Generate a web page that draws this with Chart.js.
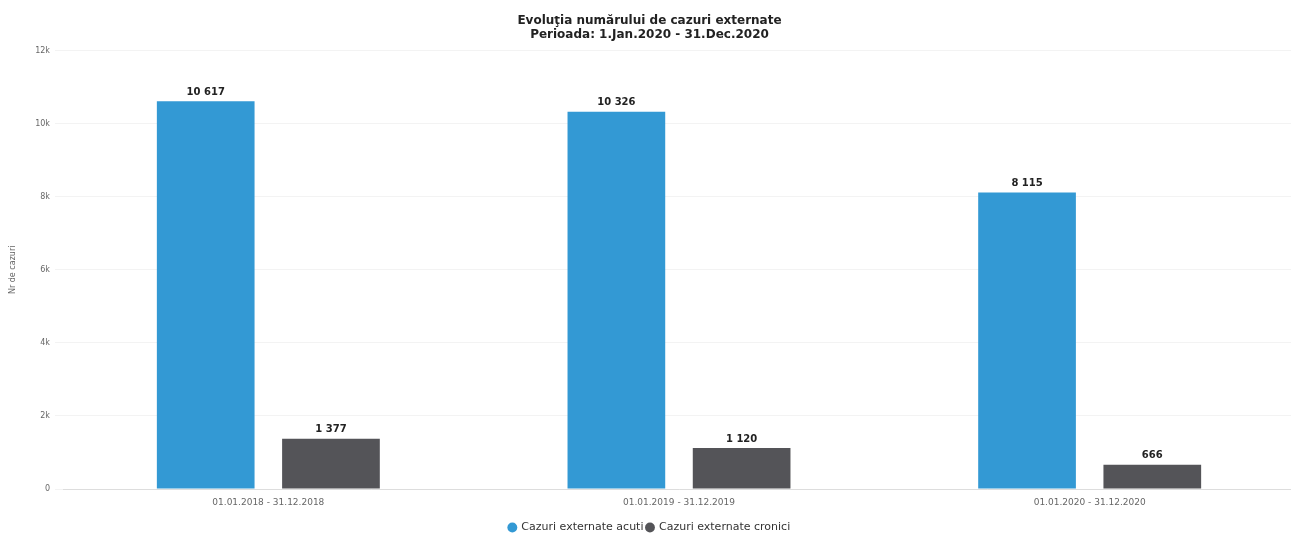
<!DOCTYPE html>
<html lang="ro">
<head>
    <meta charset="UTF-8">
    <script src="https://cdn.jsdelivr.net/npm/chart.js"></script>
    <title>Cazuri externate</title>
    <style>
        html, body { margin: 0; padding: 0; background: #fff; overflow: hidden; }
        .wrap { width: 1295px; height: 536px; }
    </style>
</head>
<body>
    <div class="wrap">
        <canvas id="grafic"></canvas>
    </div>

<script>
    // date
    const perioade = ['01.01.2018 - 31.12.2018', '01.01.2019 - 31.12.2019', '01.01.2020 - 31.12.2020'];
    const cazuriAcuti = [10617, 10326, 8115];
    const cazuriCronici = [1377, 1120, 666];
    const etichetaAcuti = 'Cazuri externate acuti';
    const etichetaCronici = 'Cazuri externate cronici';
    const ticksY = [0, 2000, 4000, 6000, 8000, 10000, 12000];

    function formatNr(v) {
        return String(v).replace(/\B(?=(\d{3})+(?!\d))/g, ' ');
    }

    // etichete deasupra barelor
    const valoriPeBare = {
        id: 'valoriPeBare',
        afterDatasetsDraw(chart) {
            const ctx = chart.ctx;
            ctx.save();
            ctx.font = 'bold 10px "DejaVu Sans"';
            ctx.fillStyle = '#222';
            ctx.textAlign = 'center';
            ctx.textBaseline = 'bottom';
            chart.data.datasets.forEach(function (ds, i) {
                chart.getDatasetMeta(i).data.forEach(function (bar, j) {
                    ctx.fillText(formatNr(ds.data[j]), bar.x, bar.y - 4);
                });
            });
            ctx.restore();
        }
    };

    new Chart(document.getElementById('grafic'), {
        type: 'bar',
        data: {
            labels: perioade,
            datasets: [
                {
                    label: etichetaAcuti,
                    data: cazuriAcuti,
                    backgroundColor: '#3399d4',
                    categoryPercentage: 0.61,
                    barPercentage: 0.78
                },
                {
                    label: etichetaCronici,
                    data: cazuriCronici,
                    backgroundColor: '#545458',
                    categoryPercentage: 0.61,
                    barPercentage: 0.78
                }
            ]
        },
        options: {
            responsive: true,
            maintainAspectRatio: false,
            animation: false,
            layout: { padding: { left: 4, right: 0, top: 0, bottom: -7 } },
            plugins: {
                title: {
                    display: true,
                    text: ['Evoluţia numărului de cazuri externate', 'Perioada: 1.Jan.2020 - 31.Dec.2020'],
                    font: { family: 'DejaVu Sans', size: 12, weight: 'bold', lineHeight: 1.15 },
                    color: '#222',
                    padding: { top: 14, bottom: 9 }
                },
                legend: {
                    position: 'bottom',
                    labels: {
                        usePointStyle: true,
                        pointStyle: 'circle',
                        boxWidth: 7,
                        boxHeight: 7,
                        padding: 3,
                        font: { family: 'DejaVu Sans', size: 11 },
                        color: '#333'
                    }
                },
                tooltip: { enabled: false }
            },
            scales: {
                x: {
                    grid: { display: false },
                    border: { color: '#ddd' },
                    afterFit(scale) { scale.height = 30; },
                    ticks: { padding: 0, font: { family: 'DejaVu Sans', size: 9 }, color: '#666' }
                },
                y: {
                    min: 0,
                    max: 12000,
                    afterBuildTicks(axis) {
                        axis.ticks = ticksY.map(function (v) { return { value: v }; });
                    },
                    afterFit(scale) { scale.width = 59; },
                    grid: { color: '#f3f3f3', tickLength: 8 },
                    border: { display: false },
                    title: {
                        display: true,
                        text: 'Nr de cazuri',
                        font: { family: 'DejaVu Sans', size: 8 },
                        color: '#666'
                    },
                    ticks: {
                        padding: 5,
                        font: { family: 'DejaVu Sans', size: 8 },
                        color: '#666',
                        callback: function (v) { return v === 0 ? '0' : (v / 1000) + 'k'; }
                    }
                }
            }
        },
        plugins: [valoriPeBare]
    });
</script>
</body>
</html>
